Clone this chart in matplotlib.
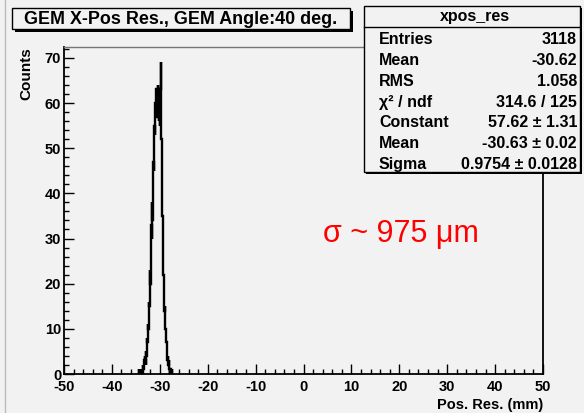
import numpy as np
import matplotlib
matplotlib.use('Agg')
import matplotlib.pyplot as plt
from matplotlib.patches import Rectangle
from matplotlib.ticker import MultipleLocator

# histogram contents, 0.05 mm bins starting at -34.30 mm
bin_start = -34.30
bin_width = 0.05
counts = [
    1, 0, 0, 1, 0, 0, 1, 0, 1, 0,
    0, 1, 1, 0, 2, 1, 0, 1, 2, 1,
    2, 1, 3, 2, 2, 4, 3, 2, 5, 4,
    4, 6, 5, 8, 7, 9, 8, 11, 10, 12,
    13, 16, 15, 19, 17, 21, 23, 20, 26, 25,
    28, 33, 30, 36, 38, 34, 41, 44, 40, 47,
    45, 52, 49, 55, 57, 53, 58, 56, 60, 57,
    61, 58, 63, 59, 62, 60, 57, 61, 64, 59,
    60, 58, 62, 56, 59, 55, 61, 57, 63, 66,
    64, 69, 60, 52, 47, 44, 38, 35, 31, 28,
    26, 22, 21, 18, 17, 14, 15, 12, 11, 10,
    9, 8, 7, 7, 5, 6, 4, 5, 3, 4,
    3, 2, 2, 3, 1, 2, 1, 1, 0, 1,
    1, 0, 1, 0, 0, 1,
]

title = 'GEM X-Pos Res., GEM Angle:40 deg.'
stats_name = 'xpos_res'
stats_labels = ['Entries', 'Mean', 'RMS', '\u03c7\u00b2 / ndf', 'Constant', 'Mean', 'Sigma']
stats_values = ['3118', '-30.62', '1.058', '314.6 / 125',
                '57.62 \u00b1 1.31', '-30.63 \u00b1 0.02', '0.9754 \u00b1 0.0128']
note = '\u03c3 ~ 975 \u03bcm'

W, H = 584, 413
bg = '#f2f2f2'
plt.rcParams['font.family'] = ['Liberation Sans', 'DejaVu Sans']
plt.rcParams['axes.unicode_minus'] = False

fig = plt.figure(figsize=(W / 100, H / 100), dpi=100, facecolor=bg)

def fx(px):
    return px / W

def fy(py):
    return 1 - py / H

# pad frame
x0, x1, y0, y1 = 64, 543, 47, 374
ax = fig.add_axes([fx(x0), fy(y1), fx(x1 - x0), (y1 - y0) / H])
ax.set_facecolor(bg)

edges = bin_start + bin_width * np.arange(len(counts) + 1)
ax.stairs(counts, edges, color='black', lw=1.7, baseline=0)

ax.set_xlim(-50, 50)
ax.set_ylim(0, 72.4)
ax.xaxis.set_major_locator(MultipleLocator(10))
ax.xaxis.set_minor_locator(MultipleLocator(2))
ax.yaxis.set_major_locator(MultipleLocator(10))
ax.yaxis.set_minor_locator(MultipleLocator(2))
ax.tick_params(which='both', direction='in', top=False, right=False,
               width=1, colors='black')
ax.tick_params(which='major', length=7, labelsize=10.5)
ax.tick_params(which='minor', length=3.5)
ax.tick_params(axis='x', which='major', pad=4)
ax.tick_params(axis='y', which='major', pad=2)
for lab in ax.get_xticklabels() + ax.get_yticklabels():
    lab.set_fontweight('bold')
for side in ['left', 'bottom', 'right']:
    ax.spines[side].set_linewidth(1.3)
ax.spines['top'].set_linewidth(1)
ax.spines['top'].set_color('#777777')

ax.set_xlabel('Pos. Res. (mm)', fontsize=10.5, fontweight='bold', loc='right', labelpad=3)
ax.set_ylabel('Counts', fontsize=11, fontweight='bold', loc='top', labelpad=8)

# left edge of the canvas
fig.add_artist(plt.Line2D([fx(5), fx(5)], [0, 1], color='#bbbbbb', lw=1,
                          transform=fig.transFigure))

def box(left, top, right, bottom, shadow=2.5):
    fig.add_artist(Rectangle((fx(left + shadow), fy(bottom + shadow)),
                             fx(right - left), (bottom - top) / H,
                             transform=fig.transFigure, facecolor='black',
                             edgecolor='none', zorder=5))
    fig.add_artist(Rectangle((fx(left), fy(bottom)), fx(right - left),
                             (bottom - top) / H, transform=fig.transFigure,
                             facecolor=bg, edgecolor='black', lw=1, zorder=6))

# title box
box(12, 8, 350, 29)
fig.text(fx(181), fy(19), title, ha='center', va='center', fontsize=12.9,
         fontweight='bold', zorder=7)

# statistics box
sl, st, sr, sb = 364, 6, 580, 172
box(sl, st, sr, sb, shadow=2)
fig.add_artist(plt.Line2D([fx(sl), fx(sr)], [fy(27), fy(27)], color='black',
                          lw=1, transform=fig.transFigure, zorder=7))
fig.text(fx((sl + sr) / 2 + 3), fy(16.5), stats_name, ha='center', va='center',
         fontsize=11.5, fontweight='bold', zorder=7)
for i, (lab, val) in enumerate(zip(stats_labels, stats_values)):
    yy = fy(40 + i * 20.7)
    fig.text(fx(379), yy, lab, ha='left', va='center', fontsize=11.5,
             fontweight='bold', zorder=7)
    fig.text(fx(577), yy, val, ha='right', va='center', fontsize=11.5,
             fontweight='bold', zorder=7)

ax.text(0.541, 0.405, note, transform=ax.transAxes, color='red', fontsize=22,
        va='baseline')

fig.savefig('out.png', dpi=100, facecolor=bg)
